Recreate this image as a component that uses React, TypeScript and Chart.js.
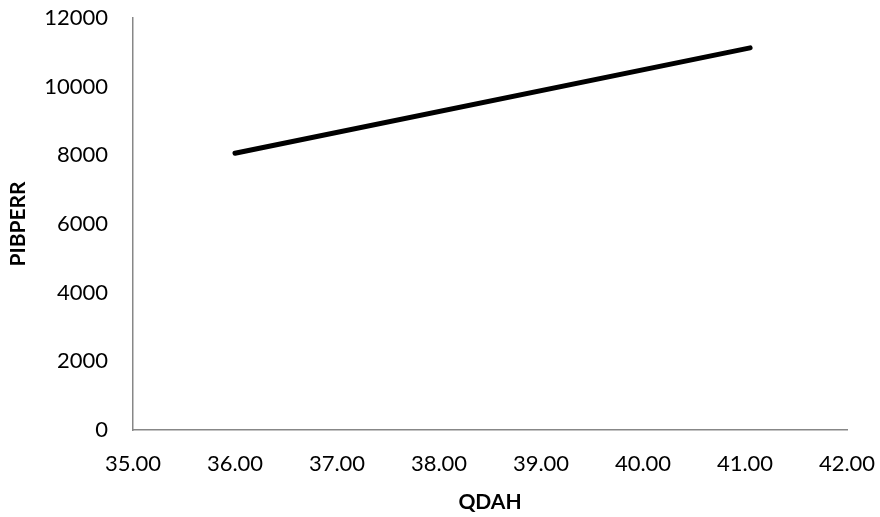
import React, { useEffect, useRef } from "react";
import { Chart, registerables } from "chart.js";

Chart.register(...registerables);

const xValues = [36.0, 41.05];
const yValues = [8060, 11130];
const xTitle = "QDAH";
const yTitle = "PIBPERR";

const zeroPad = (s: any) => {
  s.paddingLeft = 0;
  s.paddingRight = 0;
  s.paddingTop = 0;
  s.paddingBottom = 0;
};

export default function App() {
  const ref = useRef<HTMLCanvasElement | null>(null);
  useEffect(() => {
    document.body.style.margin = "0";
    const ctx = ref.current!;
    const font = { family: "Lato, 'Open Sans', sans-serif", size: 22 };
    const titleFont = { family: "Lato, 'Open Sans', sans-serif", size: 21, weight: "bold" };
    const chart = new Chart(ctx, {
      type: "scatter",
      data: {
        datasets: [
          {
            data: xValues.map((x, i) => ({ x, y: yValues[i] })),
            showLine: true,
            borderColor: "#000",
            borderWidth: 5,
            borderCapStyle: "round",
            pointRadius: 0,
          },
        ],
      },
      options: {
        animation: false,
        responsive: false,
        plugins: { legend: { display: false }, tooltip: { enabled: false } },
        layout: { padding: { left: 0, right: 33, top: 18, bottom: 0 } },
        scales: {
          x: {
            type: "linear",
            min: 35,
            max: 42,
            afterFit: (s: any) => {
              s.height = 517 - 430;
              zeroPad(s);
            },
            ticks: {
              stepSize: 1,
              color: "#000",
              font,
              padding: 21,
              maxRotation: 0,
              callback: (v: any) => Number(v).toFixed(2),
            },
            grid: { display: true, color: "rgba(0,0,0,0)", drawTicks: false },
            border: { display: true, color: "#878787", width: 1.5 },
            title: {
              display: true,
              text: xTitle,
              color: "#000",
              font: titleFont,
              padding: { top: 0, bottom: 2 },
            },
          },
          y: {
            min: 0,
            max: 12000,
            afterFit: (s: any) => {
              s.width = 133;
              zeroPad(s);
            },
            ticks: {
              stepSize: 2000,
              color: "#000",
              font,
              padding: 25,
              callback: (v: any) => String(v),
            },
            grid: { display: true, color: "rgba(0,0,0,0)", drawTicks: false },
            border: { display: true, color: "#878787", width: 1.5 },
            title: {
              display: true,
              text: yTitle,
              color: "#000",
              font: titleFont,
              padding: { top: 6, bottom: 0 },
            },
          },
        },
      },
    } as any);
    return () => chart.destroy();
  }, []);
  return (
    <div style={{ width: 880, height: 517 }}>
      <canvas ref={ref} width={880} height={517} style={{ display: "block" }} />
    </div>
  );
}
